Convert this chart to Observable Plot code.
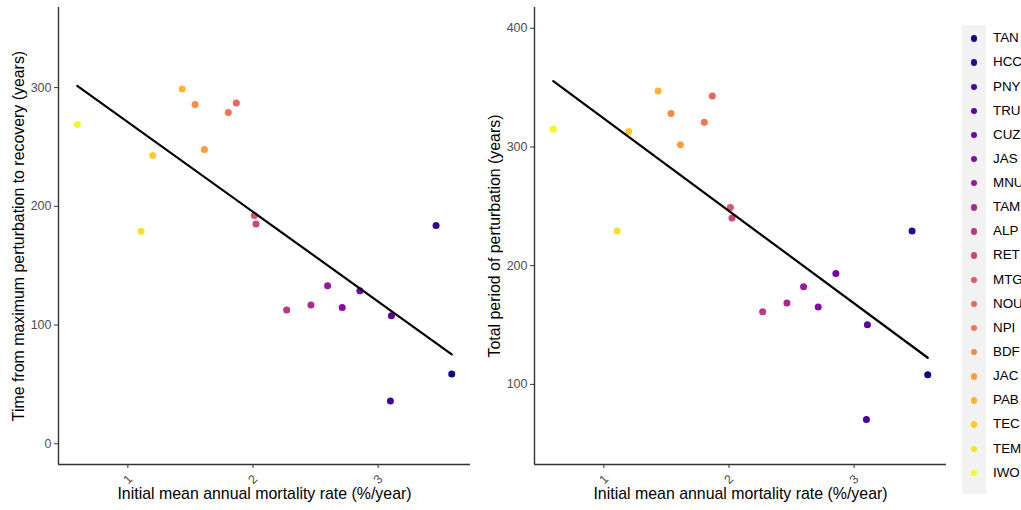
<!DOCTYPE html>
<html>
<head>
<meta charset="utf-8">
<script src="https://cdn.jsdelivr.net/npm/d3@7"></script>
<script src="https://cdn.jsdelivr.net/npm/@observablehq/plot@0.6"></script>
<style>
  html, body { margin: 0; padding: 0; background: #fff; }
  #wrap { position: relative; width: 1021px; height: 510px; overflow: hidden; font-family: "Liberation Sans", Arial, sans-serif; }
  #left { position: absolute; left: 0; top: 0; }
  #right { position: absolute; left: 480px; top: 0; }
  #legend { position: absolute; left: 962px; top: 25px; width: 24px; height: 469px; background: #f2f2f2; }
  .row { position: absolute; left: 0; height: 24px; width: 120px; }
  .row .dot { position: absolute; left: 9px; top: 9px; width: 6.4px; height: 6.4px; border-radius: 50%; }
  .row .lab { position: absolute; left: 31px; top: 0; line-height: 24px; font-size: 13.4px; color: #000; white-space: nowrap; }
</style>
</head>
<body>
<div id="wrap">
  <div id="left"></div>
  <div id="right"></div>
  <div id="legend"></div>
</div>
<script>
// Sites, ordered for the colour legend
const sites = ["TAN", "HCC", "PNY", "TRU", "CUZ", "JAS", "MNU", "TAM", "ALP", "RET",
               "MTG", "NOU", "NPI", "BDF", "JAC", "PAB", "TEC", "TEM", "IWO"];
// Initial mean annual mortality rate (%/year)
const mortality = [3.588, 3.463, 3.098, 3.106, 2.854, 2.713, 2.596, 2.463, 2.269, 2.024,
                   2.011, 1.867, 1.803, 1.537, 1.612, 1.434, 1.199, 1.106, 0.596];
// Time from maximum perturbation to recovery (years)
const recoveryTime = [58.8, 183.8, 35.9, 107.8, 128.9, 114.8, 133.0, 116.8, 112.6, 185.2,
                      192.2, 287.1, 279.0, 285.7, 247.9, 298.9, 242.9, 179.0, 268.9];
// Total period of perturbation (years)
const totalPeriod = [108.1, 229.2, 70.4, 150.3, 193.4, 165.2, 182.2, 168.5, 161.2, 240.1,
                     249.0, 343.0, 320.9, 328.2, 301.9, 347.2, 313.1, 229.2, 315.0];

const xTicks = [1, 2, 3];
const leftYTicks = [0, 100, 200, 300];
const rightYTicks = [100, 200, 300, 400];

const xTitle = "Initial mean annual mortality rate (%/year)";
const leftYTitle = "Time from maximum perturbation to recovery (years)";
const rightYTitle = "Total period of perturbation (years)";

const rows = sites.map((site, i) => ({site, mortality: mortality[i], recovery: recoveryTime[i], total: totalPeriod[i]}));
const palette = d3.quantize(d3.interpolatePlasma, sites.length);
const font = "'Liberation Sans', Arial, sans-serif";

function panel({yField, yDomain, yTicks, yTitle, width, marginLeft, marginRight}) {
  const xDomain = [0.446, 3.738];
  return Plot.plot({
    width, height: 510,
    marginTop: 7, marginBottom: 46, marginLeft, marginRight,
    style: {fontFamily: font, fontSize: "12.5px", background: "white"},
    x: {domain: xDomain},
    y: {domain: yDomain},
    color: {type: "ordinal", domain: sites, range: palette},
    marks: [
      Plot.axisX({ticks: xTicks, tickFormat: d => String(d), tickSize: 4, tickPadding: 11, tickRotate: -45,
                  textAnchor: "middle", lineAnchor: "middle",
                  stroke: "#333", fill: "#4d4d4d", fontSize: 12.5, label: null}),
      Plot.axisY({ticks: yTicks, tickFormat: d => String(d), tickSize: 4, tickPadding: 3,
                  stroke: "#333", fill: "#4d4d4d", fontSize: 12.5, label: null}),
      Plot.ruleX([xDomain[0]], {stroke: "#333", strokeWidth: 1.4}),
      Plot.ruleY([yDomain[0]], {stroke: "#333", strokeWidth: 1.4}),
      Plot.dot(rows, {x: "mortality", y: yField, fill: "site", r: 3.5, stroke: null}),
      Plot.linearRegressionY(rows, {x: "mortality", y: yField, stroke: "black", strokeWidth: 2.2, ci: 0}),
      Plot.text([xTitle], {frameAnchor: "bottom", dy: 29, textAnchor: "middle", lineAnchor: "middle", fontSize: 15.9, fill: "black"}),
      Plot.text([yTitle], {frameAnchor: "left", dx: -40, rotate: -90, textAnchor: "middle", lineAnchor: "middle", fontSize: 15.9, fill: "black"})
    ]
  });
}

document.getElementById("left").append(panel({
  yField: "recovery", yDomain: [-17.5, 367.5], yTicks: leftYTicks, yTitle: leftYTitle,
  width: 480, marginLeft: 58, marginRight: 10
}));
document.getElementById("right").append(panel({
  yField: "total", yDomain: [32.5, 417.5], yTicks: rightYTicks, yTitle: rightYTitle,
  width: 470, marginLeft: 54, marginRight: 4
}));

// Colour legend
const legend = document.getElementById("legend");
sites.forEach((site, i) => {
  const row = document.createElement("div");
  row.className = "row";
  row.style.top = (1.3 + i * 24.13) + "px";
  const dot = document.createElement("div");
  dot.className = "dot";
  dot.style.background = palette[i];
  const lab = document.createElement("div");
  lab.className = "lab";
  lab.textContent = site;
  row.append(dot, lab);
  legend.append(row);
});
</script>
</body>
</html>
